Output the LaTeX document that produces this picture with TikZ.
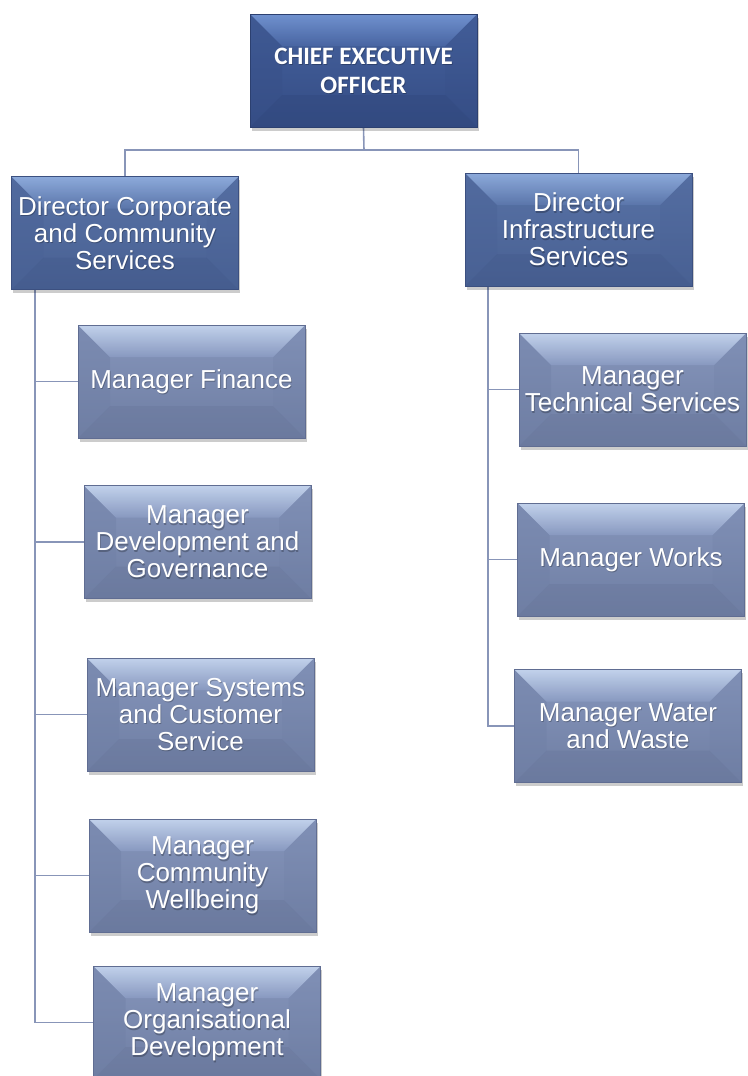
\documentclass[tikz,border=0pt]{standalone}
\usepackage{fontspec}
\newfontfamily\arialf{Liberation Sans}
\newfontfamily\calibf{Carlito}
\usetikzlibrary{shadows}

\pgfdeclarelayer{links}
\pgfsetlayers{links,main}

% palette: chief executive level
\definecolor{ceoFaceA}{RGB}{70,98,158}
\definecolor{ceoFaceB}{RGB}{52,76,132}
\definecolor{ceoTopA}{RGB}{120,154,216}
\definecolor{ceoTopB}{RGB}{74,103,164}
\definecolor{ceoSide}{RGB}{56,80,136}
\definecolor{ceoBot}{RGB}{48,70,122}
\definecolor{ceoEdge}{RGB}{44,64,112}
% palette: director level
\definecolor{dirFaceA}{RGB}{88,114,166}
\definecolor{dirFaceB}{RGB}{72,96,146}
\definecolor{dirTopA}{RGB}{150,180,228}
\definecolor{dirTopB}{RGB}{92,119,172}
\definecolor{dirSide}{RGB}{74,98,150}
\definecolor{dirBot}{RGB}{66,88,138}
\definecolor{dirEdge}{RGB}{60,80,128}
% palette: manager level
\definecolor{mgrFaceA}{RGB}{134,150,188}
\definecolor{mgrFaceB}{RGB}{110,125,162}
\definecolor{mgrTopA}{RGB}{204,220,244}
\definecolor{mgrTopB}{RGB}{138,155,194}
\definecolor{mgrSide}{RGB}{112,128,166}
\definecolor{mgrBot}{RGB}{102,116,152}
\definecolor{mgrEdge}{RGB}{96,109,146}
\definecolor{linkcol}{RGB}{136,149,184}

\def\bev{32}
\def\pfx{ceo}

\tikzset{
  orgbox/.style={
    rectangle, minimum width=227pt, minimum height=113pt, inner sep=0pt,
    align=center, text=white,
    draw=\pfx Edge, line width=0.6pt,
    top color=\pfx FaceA, bottom color=\pfx FaceB,
    drop shadow={shadow xshift=1.5pt, shadow yshift=-3.5pt, opacity=.2, fill=black},
    path picture={
      \coordinate (pA) at (path picture bounding box.north west);
      \coordinate (pB) at (path picture bounding box.north east);
      \coordinate (pC) at (path picture bounding box.south east);
      \coordinate (pD) at (path picture bounding box.south west);
      \coordinate (qA) at ([shift={(\bev,\bev)}]pA);
      \coordinate (qB) at ([shift={(-\bev,\bev)}]pB);
      \coordinate (qC) at ([shift={(-\bev,-\bev)}]pC);
      \coordinate (qD) at ([shift={(\bev,-\bev)}]pD);
      % soft bevel facets
      \fill[\pfx Side, opacity=.45] (pA) -- (qA) -- (qD) -- (pD) -- cycle;
      \fill[\pfx Side, opacity=.25] (pB) -- (qB) -- (qC) -- (pC) -- cycle;
      \fill[\pfx Bot, opacity=.35] (pD) -- (qD) -- (qC) -- (pC) -- cycle;
      \shade[top color=\pfx TopA, bottom color=\pfx TopB, opacity=.85]
        (pA) -- (pB) -- (qB) -- (qA) -- cycle;
      % soft shadow behind the lettering
      \node[align=center, font=\orgfont, text=black, opacity=.25,
            minimum width=0pt, minimum height=0pt, inner sep=0pt]
        at ([shift={(0.8,1.4)}]path picture bounding box.center) {\orgtext};
    }
  },
  ceo/.style={/utils/exec={\def\pfx{ceo}}},
  dir/.style={/utils/exec={\def\pfx{dir}}},
  mgr/.style={/utils/exec={\def\pfx{mgr}}},
  link/.style={draw=linkcol, line width=1.6pt}
}

\newcommand\orgbox[5]{% name, centre, level, font, text
  \def\orgfont{#4}\def\orgtext{#5}%
  \node[#3, orgbox, font=#4] (#1) at (#2) {#5};
}

\newcommand\ceotext{\calibf\bfseries\fontsize{25}{29}\selectfont}
\newcommand\boxtext{\arialf\fontsize{26}{27}\selectfont}

\begin{document}
\begin{tikzpicture}[x=1pt, y=-1pt]
  \useasboundingbox (0,0) rectangle (747,1076);

  \coordinate (bus) at (364,150);
  \coordinate (tl) at (35,290);
  \coordinate (tr) at (488,286);

  % chief executive
  \orgbox{ceo}{363.5,70.5}{ceo}{\ceotext}{CHIEF EXECUTIVE\\OFFICER}

  % directors
  \orgbox{dirc}{125,233}{dir}{\boxtext}{Director Corporate\\and Community\\Services}
  \orgbox{diri}{578.5,229.5}{dir}{\boxtext}{Director\\Infrastructure\\Services}

  % managers under corporate and community services
  \orgbox{mfin}{191.5,381.5}{mgr}{\boxtext}{Manager Finance}
  \orgbox{mdev}{197.5,542}{mgr}{\boxtext}{Manager\\Development and\\Governance}
  \orgbox{msys}{200.5,714.5}{mgr}{\boxtext}{Manager Systems\\and Customer\\Service}
  \orgbox{mcom}{202.5,875.5}{mgr}{\boxtext}{Manager\\Community\\Wellbeing}
  \orgbox{morg}{207,1022.5}{mgr}{\boxtext}{Manager\\Organisational\\Development}

  % managers under infrastructure services
  \orgbox{mtec}{632.5,389.5}{mgr}{\boxtext}{Manager\\Technical Services}
  \orgbox{mwrk}{631,559.5}{mgr}{\boxtext}{Manager Works}
  \orgbox{mwat}{628,726}{mgr}{\boxtext}{Manager Water\\and Waste}

  % reporting lines, kept behind the boxes
  \begin{pgfonlayer}{links}
    \draw[link] (ceo.south) -- (bus) -| (dirc.north);
    \draw[link] (bus) -| (diri.north);
    \foreach \m in {mfin,mdev,msys,mcom,morg}
      \draw[link] (tl) |- (\m.west);
    \foreach \m in {mtec,mwrk,mwat}
      \draw[link] (tr) |- (\m.west);
  \end{pgfonlayer}
\end{tikzpicture}
\end{document}
